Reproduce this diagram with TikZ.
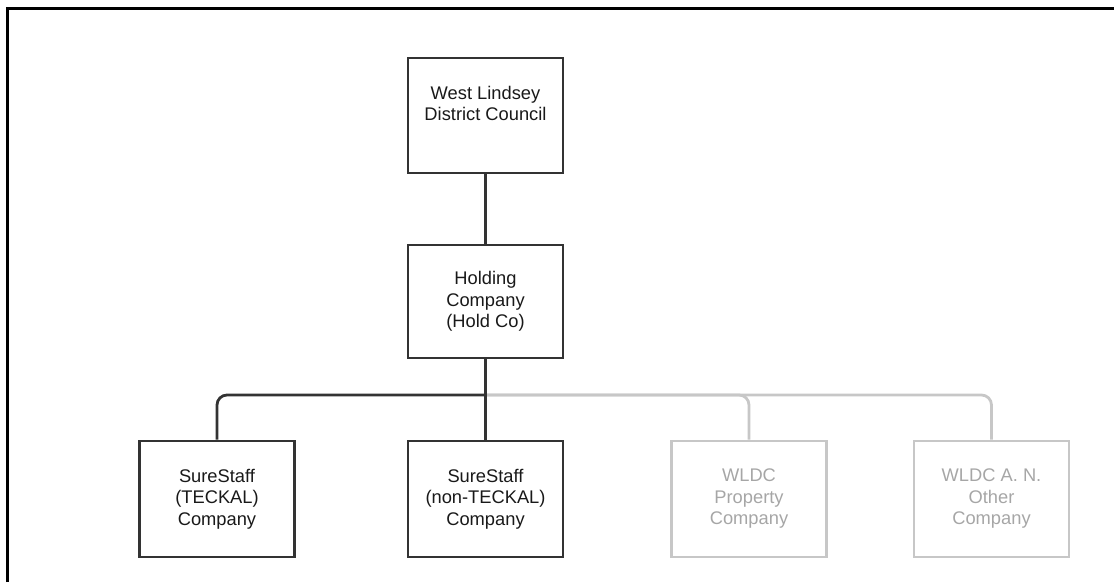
\documentclass[tikz,border=0pt]{standalone}
\usepackage{fontspec}
\setmainfont{Liberation Sans}
\begin{document}
\begin{tikzpicture}[x=1pt,y=-1pt,
  orgbox/.style={draw=black!80, line width=2.6pt, minimum width=155pt, inner sep=0pt, align=center, font=\fontsize{18.3}{21.5}\selectfont, text=black!90},
  greybox/.style={orgbox, draw=black!22, text=black!35},
  link/.style={draw=black!80, line width=2.8pt, rounded corners=10pt},
  greylink/.style={draw=black!22, line width=2.8pt, rounded corners=10pt}]
\useasboundingbox (0,0) rectangle (1114,582);
\draw[line width=3pt] (7,582) -- (7,8) -- (1114,8);
\node[orgbox, minimum height=115pt] (wldc) at (485.5,115.5) {West Lindsey\\District Council\\[3pt]};
\node[orgbox, minimum height=113pt] (hold) at (485.5,301.5) {Holding\\Company\\(Hold Co)};
\node[orgbox, minimum height=116pt] (t1) at (217,499) {SureStaff\\(TECKAL)\\Company};
\node[orgbox, minimum height=116pt] (t2) at (485.5,499) {SureStaff\\(non-TECKAL)\\Company};
\node[greybox, minimum height=116pt] (t3) at (749,499) {WLDC\\Property\\Company};
\node[greybox, minimum height=116pt] (t4) at (991.5,499) {WLDC A. N.\\Other\\Company};
\coordinate (bus) at (485.5,395);
\draw[greylink] (bus) -| (t3.north);
\draw[greylink] (bus) -| (t4.north);
\draw[link] (wldc.south) -- (hold.north);
\draw[link] (hold.south) -- (t2.north);
\draw[link] (bus) -| (t1.north);
\end{tikzpicture}
\end{document}
